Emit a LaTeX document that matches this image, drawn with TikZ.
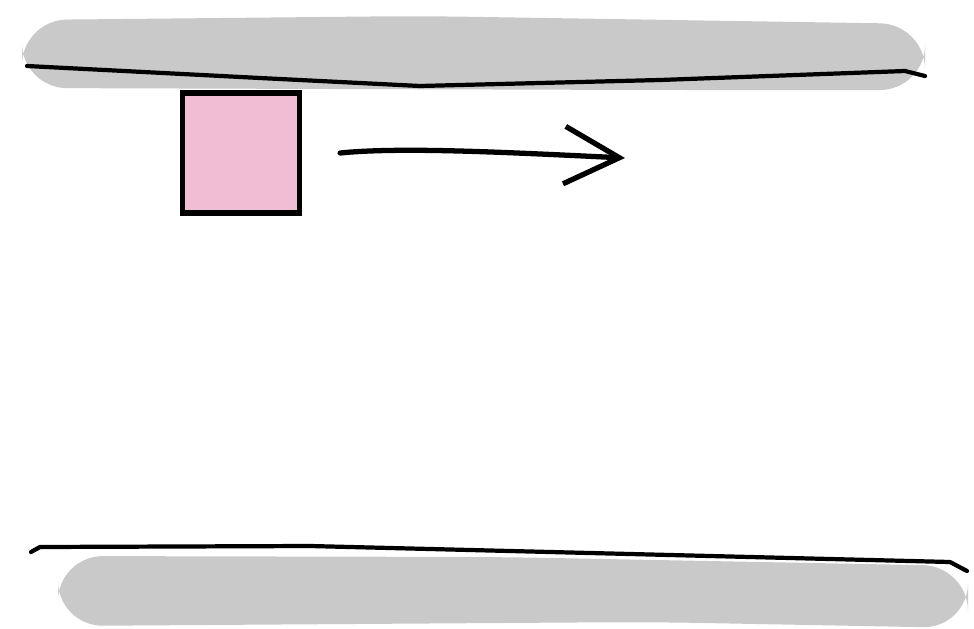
\documentclass[tikz,border=0pt]{standalone}
\usetikzlibrary{arrows.meta, positioning}
\definecolor{bandgray}{HTML}{C9C9C9}
\definecolor{boxpink}{HTML}{F0BDD5}

\begin{document}
\begin{tikzpicture}[
    x=0.02cm, y=-0.02cm,
    band/.style={fill=bandgray, draw=none, rounded corners=0.9cm},
    wall/.style={line width=2.4pt, line cap=round, line join=round},
    sq/.style={draw, line width=3pt, fill=boxpink, minimum width=2.34cm, minimum height=2.4cm},
    sketcharrow/.style={-{Straight Barb[length=1.1cm, width=1.15cm]}, line width=3pt, line cap=round},
]
\useasboundingbox (0,0) rectangle (974,629);

% Top wall
\path[band] (22,20) -- (420,16) -- (925,24) -- (925,90) -- (650,90) -- (22,88) -- cycle;
\draw[wall] (27,66) -- (260,78) -- (420,86) -- (660,80) -- (905,71) -- (925,76);

% Bottom wall
\path[band] (58,556) -- (500,557) -- (968,566) -- (968,628) -- (650,622) -- (58,626) -- cycle;
\draw[wall] (31,552) -- (40,547) -- (310,546) -- (950,562) -- (967,571);

% Moving block
\node[sq] (box) at (241,153) {};
\coordinate (tip) at (625,158);

% Direction
\draw[sketcharrow] ([xshift=0.76cm]box.east) .. controls (400,147) and (500,152) .. (tip);

\end{tikzpicture}
\end{document}
